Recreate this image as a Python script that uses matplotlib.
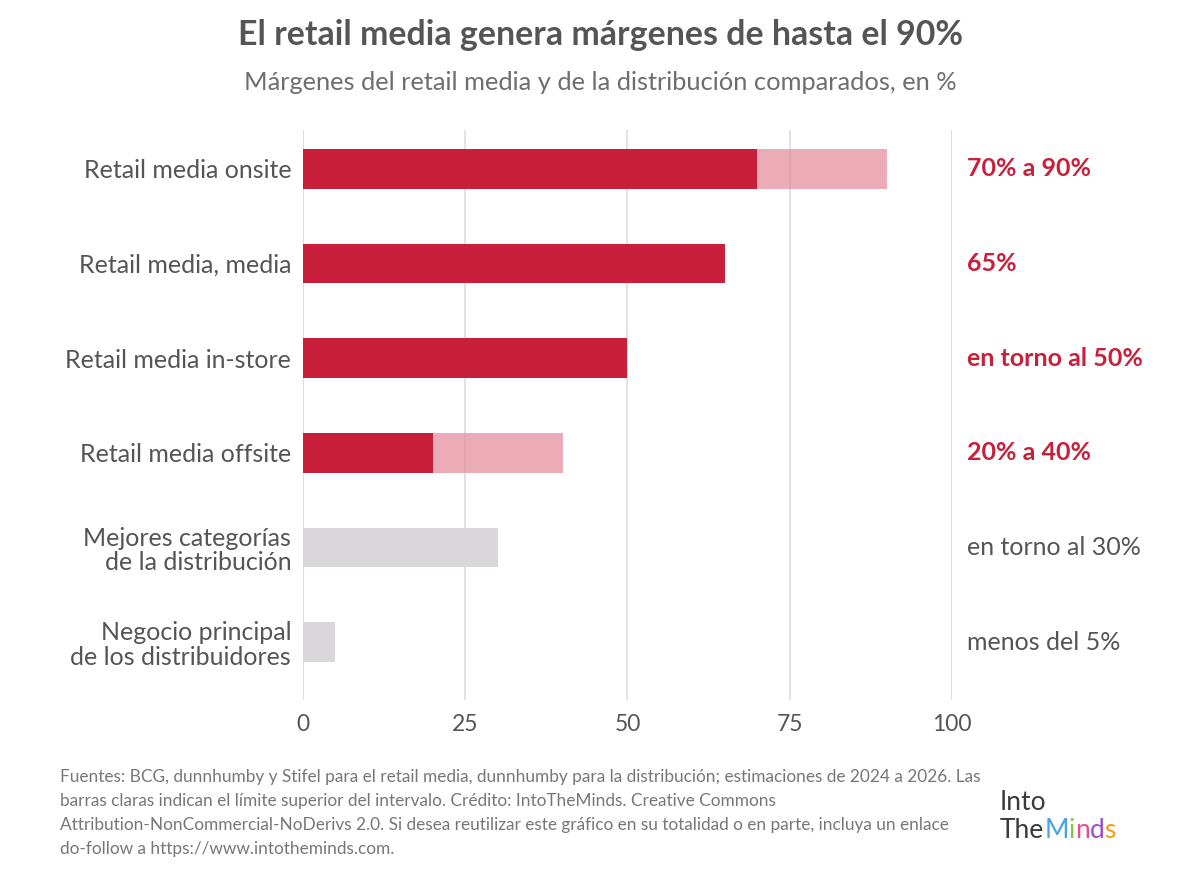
import matplotlib
matplotlib.use('Agg')
import matplotlib.pyplot as plt
import numpy as np

plt.rcParams['font.family'] = ['Lato', 'DejaVu Sans']

categories = ['Retail media onsite', 'Retail media, media', 'Retail media in-store',
              'Retail media offsite', 'Mejores categorías\nde la distribución',
              'Negocio principal\nde los distribuidores']
low_values = [70, 65, 50, 20, 30, 5]
high_values = [90, 65, 50, 40, 30, 5]
is_retail_media = [True, True, True, True, False, False]
value_labels = ['70% a 90%', '65%', 'en torno al 50%', '20% a 40%',
                'en torno al 30%', 'menos del 5%']
x_ticks = [0, 25, 50, 75, 100]

RED = '#C8203B'
LIGHT_RED = '#E3899A'
GRAY = '#DAD7DA'
TEXT = '#555458'

fig = plt.figure(figsize=(12, 8.76), dpi=100)
ax = fig.add_axes([0.2525, 0.2009, 0.5408, 0.6507])

y = np.arange(len(categories))
h = 0.42
for i in y:
    if is_retail_media[i]:
        ax.barh(i, low_values[i], height=h, color=RED, zorder=3)
        if high_values[i] > low_values[i]:
            ax.barh(i, high_values[i] - low_values[i], left=low_values[i],
                    height=h, color=LIGHT_RED, alpha=0.7, zorder=3)
        col, weight = RED, 'bold'
    else:
        ax.barh(i, high_values[i], height=h, color=GRAY, zorder=3)
        col, weight = TEXT, 'normal'
    ax.text(102.3, i, value_labels[i], va='center', ha='left', fontsize=18,
            color=col, fontweight=weight, clip_on=False)

ax.set_xlim(0, 100)
ax.set_ylim(5.61, -0.41)
ax.set_xticks(x_ticks)
ax.set_yticks(y)
ax.set_yticklabels(categories, fontsize=18, color=TEXT, linespacing=1.08)
ax.tick_params(axis='x', labelsize=16.5, labelcolor=TEXT, length=0, pad=10)
ax.tick_params(axis='y', length=0, pad=8.5)
ax.grid(axis='x', color='#DEDCDE', lw=1.2, zorder=0)
for s in ax.spines.values():
    s.set_visible(False)
ax.axvline(0, color='#DEDCDE', lw=1.2, zorder=1)
ax.axvline(100, color='#DEDCDE', lw=1.2, zorder=1)

fig.text(0.5, 1 - 35 / 876, 'El retail media genera márgenes de hasta el 90%',
         ha='center', va='center', fontsize=24.4, fontweight='bold', color=TEXT)
fig.text(0.5, 1 - 82 / 876, 'Márgenes del retail media y de la distribución comparados, en %',
         ha='center', va='center', fontsize=18.3, color='#6E6D72')

footer = ('Fuentes: BCG, dunnhumby y Stifel para el retail media, dunnhumby para la distribución; '
          'estimaciones de 2024 a 2026. Las\nbarras claras indican el límite superior del intervalo. '
          'Crédito: IntoTheMinds. Creative Commons\nAttribution-NonCommercial-NoDerivs 2.0. '
          'Si desea reutilizar este gráfico en su totalidad o en parte, incluya un enlace\n'
          'do-follow a https://www.intotheminds.com.')
fig.text(60 / 1200, 1 - 769 / 876, footer, ha='left', va='top', fontsize=12.4,
         color='#77767A', linespacing=1.62)

# logo
renderer = fig.canvas.get_renderer()
fig.text(1000 / 1200, 1 - 803 / 876, 'Into', ha='left', va='center', fontsize=19,
         color='#3A3A3A')
logo_letters = [('The', '#3A3A3A'), ('M', '#4AA3DF'), ('i', '#8BC34A'),
                ('n', '#E84E8A'), ('d', '#9C4DCC'), ('s', '#F39C12')]
xpos = 1000
for t, c in logo_letters:
    txt = fig.text(xpos / 1200, 1 - 830 / 876, t, ha='left', va='center', fontsize=19,
                   color=c)
    xpos += txt.get_window_extent(renderer).width

fig.savefig('out.png', dpi=100, facecolor='white')
